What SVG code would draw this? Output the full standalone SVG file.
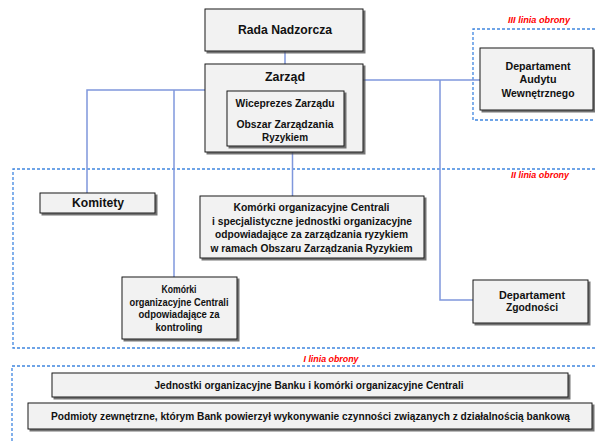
<svg xmlns="http://www.w3.org/2000/svg" width="595" height="442" viewBox="0 0 595 442">
<defs>
<filter id="sh" x="-10%" y="-10%" width="130%" height="140%">
<feDropShadow dx="2" dy="2" stdDeviation="0.7" flood-color="#444" flood-opacity="0.75"/>
</filter>
<style>
.box{fill:#f2f2f2;stroke:#1a1a1a;stroke-width:1;filter:url(#sh)}
.zone{fill:none;stroke:#3f86e0;stroke-width:1.3;stroke-dasharray:3 2}
.t{font-family:"Liberation Sans",Arial,sans-serif;font-weight:bold;fill:#111;text-anchor:middle}
.lab{font-family:"Liberation Sans",Arial,sans-serif;font-weight:bold;font-style:italic;fill:#ff0000;text-anchor:middle;font-size:9px}
.c{fill:none;stroke:#7f97dc;stroke-width:1.5}
</style>
</defs>
<rect width="595" height="442" fill="#ffffff"/>

<g id="zones">
<path class="zone" d="M595 29H473V120H595"/>
<text class="lab" x="539" y="23.2" textLength="62" lengthAdjust="spacingAndGlyphs">III linia obrony</text>
<path class="zone" d="M595 169H13V348H595"/>
<text class="lab" x="540" y="178" textLength="58" lengthAdjust="spacingAndGlyphs">II linia obrony</text>
<path class="zone" d="M595 366H12V442"/>
<text class="lab" x="331" y="362" textLength="55" lengthAdjust="spacingAndGlyphs">I linia obrony</text>
</g>

<g id="connectors">
<path class="c" d="M285 51V64"/>
<path class="c" d="M205 90H87V193"/>
<path class="c" d="M174 90V277"/>
<path class="c" d="M363 80H480"/>
<path class="c" d="M440 80V300H473"/>
<path class="c" d="M292.5 146V196"/>
</g>

<g id="rada">
<rect class="box" x="205" y="9" width="158" height="42"/>
<text class="t" x="285" y="33.7" font-size="13" textLength="94" lengthAdjust="spacingAndGlyphs">Rada Nadzorcza</text>
</g>

<g id="zarzad">
<rect class="box" x="205" y="64" width="158" height="88"/>
<text class="t" x="285" y="80.5" font-size="12.5" textLength="40" lengthAdjust="spacingAndGlyphs">Zarząd</text>
</g>

<g id="wiceprezes">
<rect class="box" x="227" y="91" width="117" height="55"/>
<text class="t" x="285" y="106.6" font-size="10" textLength="99" lengthAdjust="spacingAndGlyphs">Wiceprezes Zarządu</text>
<text class="t" x="285" y="128" font-size="10" textLength="97" lengthAdjust="spacingAndGlyphs">Obszar Zarządzania</text>
<text class="t" x="285" y="140.6" font-size="10" textLength="46" lengthAdjust="spacingAndGlyphs">Ryzykiem</text>
</g>

<g id="audyt">
<rect class="box" x="480" y="48" width="113" height="62"/>
<text class="t" x="538" y="69.8" font-size="10.5" textLength="65" lengthAdjust="spacingAndGlyphs">Departament</text>
<text class="t" x="538" y="83.3" font-size="10.5" textLength="37" lengthAdjust="spacingAndGlyphs">Audytu</text>
<text class="t" x="538" y="96.8" font-size="10.5" textLength="73" lengthAdjust="spacingAndGlyphs">Wewnętrznego</text>
</g>

<g id="komitety">
<rect class="box" x="40" y="193" width="115" height="20"/>
<text class="t" x="98" y="207.3" font-size="12" textLength="52" lengthAdjust="spacingAndGlyphs">Komitety</text>
</g>

<g id="komorki-ryzyko">
<rect class="box" x="200" y="196" width="224" height="62"/>
<text class="t" x="311.5" y="210.6" font-size="10" textLength="156" lengthAdjust="spacingAndGlyphs">Komórki  organizacyjne Centrali</text>
<text class="t" x="312" y="224.6" font-size="10" textLength="200" lengthAdjust="spacingAndGlyphs">i specjalistyczne  jednostki organizacyjne</text>
<text class="t" x="311.5" y="238.1" font-size="10" textLength="193" lengthAdjust="spacingAndGlyphs">odpowiadające za zarządzania ryzykiem</text>
<text class="t" x="311.5" y="251.6" font-size="10" textLength="202" lengthAdjust="spacingAndGlyphs">w ramach Obszaru Zarządzania Ryzykiem</text>
</g>

<g id="komorki-kontroling">
<rect class="box" x="122" y="277" width="115" height="62"/>
<text class="t" x="179" y="292.6" font-size="10" textLength="35" lengthAdjust="spacingAndGlyphs">Komórki</text>
<text class="t" x="179" y="305.6" font-size="10" textLength="99" lengthAdjust="spacingAndGlyphs">organizacyjne Centrali</text>
<text class="t" x="179" y="318" font-size="10" textLength="81" lengthAdjust="spacingAndGlyphs">odpowiadające za</text>
<text class="t" x="179" y="330.6" font-size="10" textLength="47" lengthAdjust="spacingAndGlyphs">kontroling</text>
</g>

<g id="zgodnosc">
<rect class="box" x="473" y="280" width="115" height="43"/>
<text class="t" x="532" y="298.8" font-size="10.5" textLength="66" lengthAdjust="spacingAndGlyphs">Departament</text>
<text class="t" x="532" y="311.3" font-size="10.5" textLength="52" lengthAdjust="spacingAndGlyphs">Zgodności</text>
</g>

<g id="jednostki">
<rect class="box" x="52" y="373" width="516" height="24"/>
<text class="t" x="309" y="389" font-size="11" textLength="309" lengthAdjust="spacingAndGlyphs">Jednostki organizacyjne Banku i komórki organizacyjne Centrali</text>
</g>

<g id="podmioty">
<rect class="box" x="28" y="403" width="564" height="26"/>
<text class="t" x="310.5" y="419.8" font-size="10.2" textLength="519" lengthAdjust="spacingAndGlyphs">Podmioty zewnętrzne, którym Bank powierzył wykonywanie czynności związanych z działalnością bankową</text>
</g>
</svg>
